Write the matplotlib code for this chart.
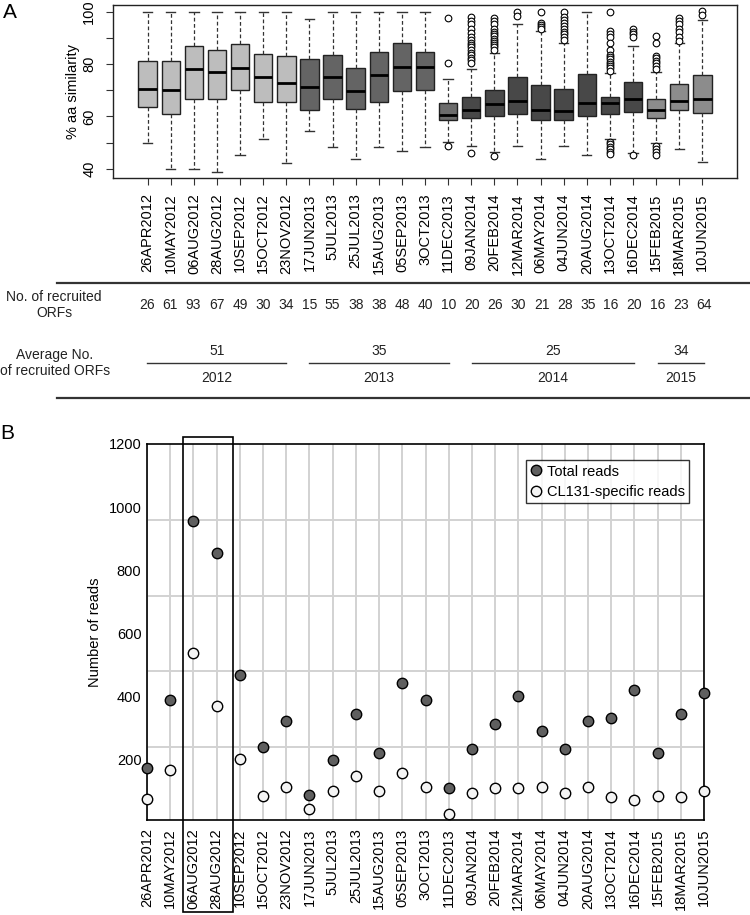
import matplotlib
matplotlib.use('Agg')
import matplotlib.pyplot as plt
from matplotlib.patches import Rectangle
from matplotlib.lines import Line2D
import matplotlib.transforms as mtransforms

plt.rcParams['font.family'] = ['Liberation Sans', 'DejaVu Sans']

# ---------------- data ----------------
dates = ['26APR2012', '10MAY2012', '06AUG2012', '28AUG2012', '10SEP2012', '15OCT2012',
         '23NOV2012', '17JUN2013', '5JUL2013', '25JUL2013', '15AUG2013', '05SEP2013',
         '3OCT2013', '11DEC2013', '09JAN2014', '20FEB2014', '12MAR2014', '06MAY2014',
         '04JUN2014', '20AUG2014', '13OCT2014', '16DEC2014', '15FEB2015', '18MAR2015',
         '10JUN2015']
box_group = ['2012'] * 7 + ['2013'] * 6 + ['2013b'] + ['2014'] * 8 + ['2015'] * 3

q1 = [63.5, 60.8, 66.6, 66.6, 70.0, 65.5, 65.5, 62.5, 66.6, 63.0, 65.5, 69.7, 70.1,
      58.7, 59.5, 60.3, 60.8, 58.5, 58.5, 60.1, 60.8, 61.7, 59.5, 62.4, 61.5]
med = [70.6, 70.0, 78.0, 77.1, 78.6, 75.0, 72.9, 71.3, 75.0, 69.7, 75.7, 78.8, 78.8,
       60.6, 62.6, 64.6, 65.9, 62.6, 62.0, 65.0, 65.0, 66.7, 62.6, 65.9, 66.7]
q3 = [81.2, 81.3, 86.9, 85.4, 87.8, 83.7, 83.2, 81.8, 83.4, 78.5, 84.7, 87.9, 84.8,
      65.0, 67.6, 70.0, 75.0, 72.0, 70.6, 76.4, 67.6, 73.0, 66.6, 72.3, 75.7]
whis_lo = [50.0, 40.0, 40.0, 38.8, 45.3, 51.4, 42.4, 54.5, 48.5, 43.8, 48.5, 46.8, 48.4,
           50.2, 48.9, 46.3, 48.7, 43.8, 48.7, 45.2, 51.3, 46.1, 50.0, 47.6, 42.8]
whis_hi = [100, 100, 100, 100, 100, 100, 100, 97.1, 100, 100, 100, 100, 100,
           74.3, 78.0, 84.1, 95.2, 92.5, 87.9, 100, 76.6, 86.8, 77.1, 87.9, 97.0]
outliers = [
    [], [], [], [], [], [], [], [], [], [], [], [], [],
    [97.5, 80.5, 48.9],
    [98.1, 96.6, 95.2, 93.4, 91.8, 90.5, 89.2, 88.2, 87.3, 86.4, 85.4, 84.4, 83.5,
     82.4, 81.6, 80.6, 46.2],
    [97.8, 96.6, 95.2, 93.4, 92.4, 91.5, 90.7, 89.8, 88.9, 88.2, 87.3, 86.4, 85.4, 45.0],
    [100.0, 98.5],
    [100.0, 95.6, 94.9, 94.3, 93.3],
    [100.0, 98.1, 96.9, 95.6, 94.6, 93.4, 92.4, 91.4, 90.3, 89.2],
    [],
    [100.0, 92.7, 91.5, 90.2, 88.2, 85.4, 83.5, 82.6, 81.8, 80.9, 80.0, 79.3, 78.4, 77.5,
     50.4, 49.4, 48.5, 47.6, 46.6, 45.7],
    [93.3, 92.4, 91.5, 90.5, 45.2],
    [90.7, 87.9, 83.2, 82.2, 81.3, 80.3, 79.3, 78.1, 48.9, 47.6, 46.3, 45.2],
    [97.8, 96.6, 95.3, 93.6, 92.1, 90.5, 89.0],
    [100.2, 98.8],
]

recruited_orfs = [26, 61, 93, 67, 49, 30, 34, 15, 55, 38, 38, 48, 40, 10, 20, 26, 30,
                  21, 28, 35, 16, 20, 16, 23, 64]
year_labels = ['2012', '2013', '2014', '2015']
year_avg = [51, 35, 25, 34]
year_first = [0, 7, 14, 22]
year_last = [6, 13, 21, 24]

total_reads = [175, 390, 955, 855, 468, 240, 322, 90, 200, 346, 223, 443, 390, 111,
               236, 313, 403, 293, 236, 322, 334, 423, 223, 346, 412]
cl131_reads = [77, 167, 538, 370, 203, 86, 114, 44, 102, 150, 102, 160, 114, 29,
               97, 110, 110, 114, 97, 114, 82, 73, 86, 82, 102]

group_colors = {'2012': '#bdbdbd', '2013': '#646464', '2013b': '#6c6c6c',
                '2014': '#484848', '2015': '#8c8c8c'}

# ---------------- figure ----------------
W, H = 750, 915
fig = plt.figure(figsize=(W / 100, H / 100), dpi=100)


def fx(px):
    return px / W


def fy(py):
    return 1 - py / H


# ---------- Panel A: boxplots ----------
axA = fig.add_axes([fx(113), fy(178), fx(737 - 113), (178 - 5) / H])
pos = list(range(len(dates)))
stats = []
for i in pos:
    stats.append(dict(med=med[i], q1=q1[i], q3=q3[i], whislo=whis_lo[i],
                      whishi=whis_hi[i], fliers=outliers[i], label=dates[i]))
bp = axA.bxp(stats, positions=pos, widths=0.8, patch_artist=True, showfliers=True,
             boxprops=dict(edgecolor='#222222', linewidth=1.0),
             medianprops=dict(color='black', linewidth=2.0),
             whiskerprops=dict(color='#333333', linewidth=0.9, linestyle=(0, (3, 2))),
             capprops=dict(color='#333333', linewidth=1.0),
             capwidths=0.4,
             flierprops=dict(marker='o', markersize=4.8, markerfacecolor='white',
                             markeredgecolor='black', markeredgewidth=0.8))
for patch, g in zip(bp['boxes'], box_group):
    patch.set_facecolor(group_colors[g])

axA.set_xlim(-1.5, len(dates) + 0.5)
axA.set_ylim(36.5, 102.6)
axA.set_yticks([40, 50, 60, 70, 80, 90, 100])
axA.set_yticklabels(['40', '', '60', '', '80', '', '100'], rotation=90, va='center',
                    fontsize=10.5)
axA.set_xticks(pos)
axA.set_xticklabels(dates, rotation=90, fontsize=10.5)
axA.tick_params(axis='both', direction='out', length=5, width=0.8, color='#333333')
axA.tick_params(axis='y', pad=7)
axA.tick_params(axis='x', pad=6)
for s in axA.spines.values():
    s.set_linewidth(1.0)
    s.set_color('#222222')
axA.set_ylabel('% aa similarity', fontsize=10.5)
axA.yaxis.set_label_coords(-(113 - 80) / (737 - 113), 0.5)

fig.text(fx(10), fy(13), 'A', fontsize=15, ha='center', va='center')

# ---------- Panel B: scatter ----------
axB = fig.add_axes([fx(147), fy(820), fx(704 - 147), (820 - 444) / H])
axB.set_xlim(0, len(dates) - 1)
axB.set_ylim(10, 1200)
axB.set_yticks([200, 400, 600, 800, 1000, 1200])
axB.set_yticks([240, 480, 720, 960], minor=True)
axB.set_xticks(pos)
axB.set_xticklabels(dates, rotation=90, fontsize=10.5)
axB.tick_params(axis='both', which='both', length=0, labelsize=10.5)
axB.tick_params(axis='y', pad=4)
axB.tick_params(axis='x', pad=6)
axB.grid(True, which='minor', axis='y', color='#d2d2d2', linewidth=1.4)
axB.grid(True, which='major', axis='x', color='#d2d2d2', linewidth=1.4)
axB.set_axisbelow(True)
for s in axB.spines.values():
    s.set_linewidth(1.2)
    s.set_color('black')
axB.plot(pos, total_reads, 'o', markersize=7.5, markerfacecolor='#5f5f5f',
         markeredgecolor='black', markeredgewidth=1.0, clip_on=False, zorder=5,
         label='Total reads')
axB.plot(pos, cl131_reads, 'o', markersize=7.5, markerfacecolor='#f4f4f4',
         markeredgecolor='black', markeredgewidth=1.0, clip_on=False, zorder=5,
         label='CL131-specific reads')
axB.set_ylabel('Number of reads', fontsize=10.5)
axB.yaxis.set_label_coords(-(147 - 102) / (704 - 147), 0.5)
leg = axB.legend(loc='upper right', bbox_to_anchor=(0.973, 0.957), borderaxespad=0,
                 fontsize=10.5, frameon=True, fancybox=False, handlelength=0.8,
                 handletextpad=0.3, borderpad=0.3, labelspacing=0.45)
leg.get_frame().set_edgecolor('black')
leg.get_frame().set_linewidth(1.0)

# highlight box around 06AUG2012 / 28AUG2012
rect = Rectangle((1.55, (820 - 912) / 376), 3.69 - 1.55, (912 - 437) / 376,
                 transform=axB.get_xaxis_transform(), fill=False, edgecolor='black',
                 linewidth=1.2, clip_on=False, zorder=6)
axB.add_patch(rect)

fig.text(fx(7), fy(433), 'B', fontsize=15, ha='center', va='center')

# ---------- table between panels ----------
tr = mtransforms.blended_transform_factory(axB.transData, fig.transFigure)
fig.add_artist(Line2D([fx(57), 1.0], [fy(283), fy(283)], color='#333333', linewidth=1.6))
fig.add_artist(Line2D([fx(57), 1.0], [fy(398), fy(398)], color='#333333', linewidth=1.6))
fig.text(fx(54), fy(305), 'No. of recruited\nORFs', ha='center', va='center',
         ma='center', fontsize=10, linespacing=1.15, color='#222222')
fig.text(fx(55), fy(363), 'Average No.\nof recruited ORFs', ha='center', va='center',
         ma='center', fontsize=10, linespacing=1.15, color='#222222')
for i, v in enumerate(recruited_orfs):
    fig.text(i, fy(305), str(v), transform=tr, ha='center', va='center', fontsize=10,
             color='#222222')
for lab, avg, a, b in zip(year_labels, year_avg, year_first, year_last):
    fig.add_artist(Line2D([a, b], [fy(363), fy(363)], transform=tr, color='#333333',
                          linewidth=1.0))
    fig.text((a + b) / 2, fy(351), str(avg), transform=tr, ha='center', va='center',
             fontsize=10, color='#222222')
    fig.text((a + b) / 2, fy(378), lab, transform=tr, ha='center', va='center',
             fontsize=10, color='#222222')

fig.savefig('out.png', dpi=100)
